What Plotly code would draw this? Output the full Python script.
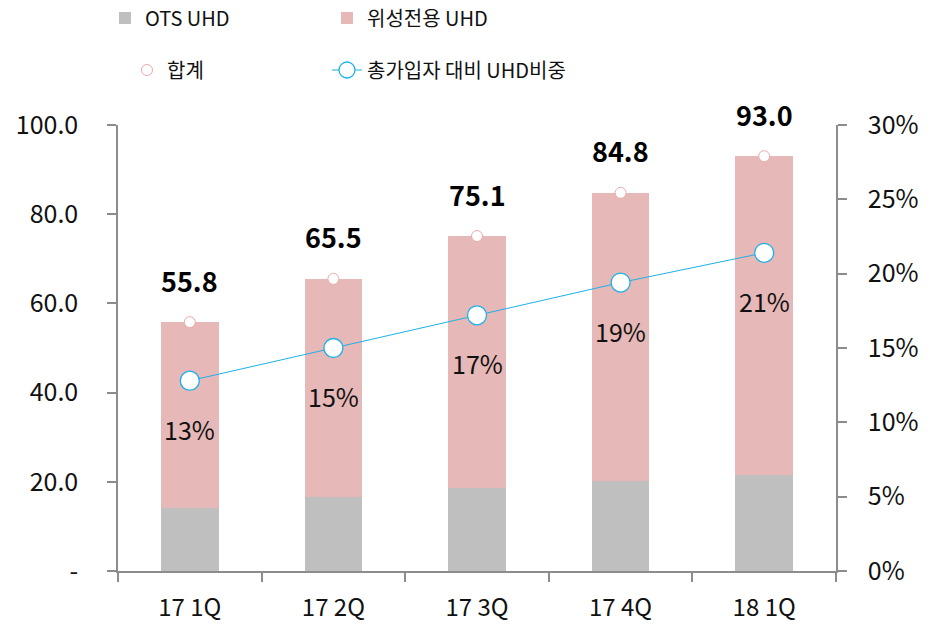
import plotly.graph_objects as go

categories = ["17 1Q", "17 2Q", "17 3Q", "17 4Q", "18 1Q"]
ots_uhd = [14.1, 16.6, 18.6, 20.2, 21.5]
totals = [55.8, 65.5, 75.1, 84.8, 93.0]
sat_uhd = [round(t - o, 1) for t, o in zip(totals, ots_uhd)]
uhd_share = [12.8, 15.0, 17.2, 19.4, 21.4]  # %

left_ticks = [0, 20, 40, 60, 80, 100]
left_ticktext = ["-", "20.0", "40.0", "60.0", "80.0", "100.0"]
right_ticks = [0, 5, 10, 15, 20, 25, 30]
right_ticktext = ["0%", "5%", "10%", "15%", "20%", "25%", "30%"]

FONT = "Noto Sans CJK KR"
GRAY = "#BFBFBF"
PINK = "#E6B8B7"
BLUE = "#1EB0E8"
AXIS = "#8C8C8C"

fig = go.Figure()
fig.add_trace(go.Bar(x=categories, y=ots_uhd, name="OTS UHD", marker=dict(color=GRAY, line=dict(width=0)),
                     width=0.4, legend="legend"))
fig.add_trace(go.Bar(x=categories, y=sat_uhd, name="위성전용 UHD", marker=dict(color=PINK, line=dict(width=0)),
                     width=0.4, legend="legend2"))
fig.add_trace(go.Scatter(x=categories, y=totals, name="합계", mode="markers",
                         marker=dict(symbol="circle", size=11, color="white", line=dict(color="#EBAAAA", width=1)),
                         legend="legend3"))
fig.add_trace(go.Scatter(x=categories, y=uhd_share, name="총가입자 대비 UHD비중", mode="lines+markers", yaxis="y2",
                         line=dict(color=BLUE, width=1),
                         marker=dict(symbol="circle", size=19, color="white", line=dict(color=BLUE, width=1.3)),
                         legend="legend4"))

for c, t in zip(categories, totals):
    fig.add_annotation(x=c, y=t, xref="x", yref="y", text=f"<b>{t:.1f}</b>", showarrow=False,
                       yshift=42, font=dict(family=FONT, size=27, color="#000000"))
for c, s in zip(categories, uhd_share):
    fig.add_annotation(x=c, y=s, xref="x", yref="y2", text=f"{round(s)}%", showarrow=False,
                       yshift=-48, font=dict(family=FONT, size=25, color="#111111"))


def leg(xpx, ypx):
    return dict(orientation="h", x=xpx / 938, xanchor="left", y=1 - ypx / 627, yanchor="middle",
                xref="container", yref="container", font=dict(family=FONT, size=20, color="#111111"),
                bgcolor="rgba(0,0,0,0)")


fig.update_layout(
    width=938, height=627,
    margin=dict(l=118, r=102, t=125, b=56, autoexpand=False),
    paper_bgcolor="white", plot_bgcolor="white",
    barmode="stack",
    font=dict(family=FONT, size=22, color="#111111"),
    showlegend=True,
    legend=leg(105, 18),
    legend2=leg(327, 18),
    legend3=leg(127, 70),
    legend4=leg(327, 70),
    xaxis=dict(showline=True, linecolor=AXIS, linewidth=1.5, ticks="outside", tickson="boundaries",
               ticklen=9, tickcolor=AXIS, tickwidth=1.5, showgrid=False, zeroline=False, automargin=False,
               tickfont=dict(size=24), ticklabelstandoff=14),
    yaxis=dict(range=[0, 100], tickvals=left_ticks, ticktext=left_ticktext, showline=True, linecolor=AXIS,
               linewidth=1.5, ticks="outside", ticklen=9, tickcolor=AXIS, tickwidth=1.5, showgrid=False,
               zeroline=False, automargin=False, tickfont=dict(size=25), ticklabelstandoff=24),
    yaxis2=dict(range=[0, 30], overlaying="y", side="right", tickvals=right_ticks, ticktext=right_ticktext,
                showline=True, linecolor=AXIS, linewidth=1.5, ticks="outside", ticklen=9, tickcolor=AXIS,
                tickwidth=1.5, showgrid=False, zeroline=False, automargin=False, tickfont=dict(size=25),
                ticklabelstandoff=16),
)

fig.write_html("out.html", config={"displayModeBar": False},
               post_script="document.body.style.margin='0';")
